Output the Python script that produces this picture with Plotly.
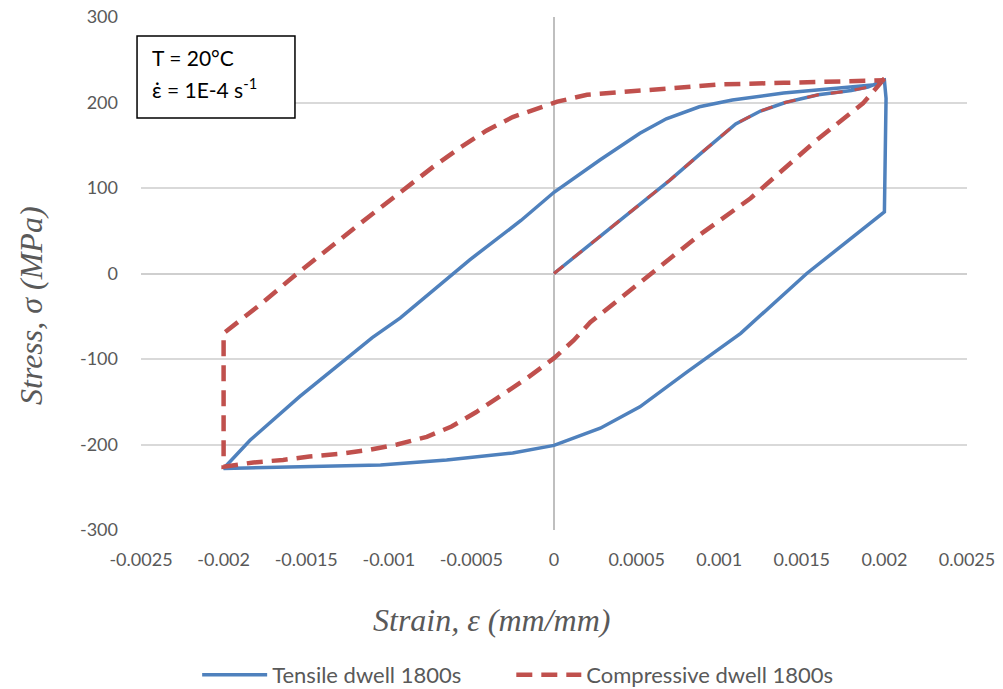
import plotly.graph_objects as go

# Tensile dwell 1800s (blue, solid)
tens_strain = [0, 0.00034, 0.0007, 0.00088, 0.0011, 0.00125, 0.0014, 0.0016, 0.0018, 0.0019, 0.00197, 0.002,
               0.00201, 0.002,
               0.00153, 0.00113, 0.0008, 0.00052, 0.00028, 0.00012, 0, -0.00025, -0.00065, -0.00105, -0.0015, -0.002,
               -0.00184, -0.00154, -0.0011, -0.00093, -0.00051, -0.0002, 0, 0.00028, 0.00052, 0.00068,
               0.00088, 0.00108, 0.00139, 0.00169, 0.00196, 0.002]
tens_stress = [0, 53, 109, 139, 175, 190, 200, 209, 214, 218, 224, 226,
               205, 72,
               0, -70, -116, -156, -181, -193, -201, -210, -218, -224, -226, -228,
               -195, -144, -75, -52, 16, 62, 95, 133, 164, 181,
               195, 203, 211, 216, 221, 226]

# Compressive dwell 1800s (red, dashed) - initial loading
comp_load_strain = [0, 0.00034, 0.0007, 0.00088, 0.0011, 0.00125, 0.0014, 0.0016, 0.0018, 0.0019, 0.00197, 0.002]
comp_load_stress = [0, 53, 109, 139, 175, 190, 200, 209, 214, 218, 224, 228]

# Compressive dwell 1800s - cycle
comp_strain = [0.002, 0.00187, 0.00159, 0.00133, 0.00119, 0.00088, 0.00064, 0.0005, 0.00022, 0.00012, 0,
               -0.00016, -0.00031, -0.00047, -0.00062, -0.00077, -0.00095, -0.00111, -0.0013, -0.00148,
               -0.00164, -0.00182, -0.002,
               -0.002, -0.002,
               -0.00177, -0.00158, -0.00117, -0.00089, -0.00073, -0.00057, -0.00041, -0.00025, -0.00008,
               0.00002, 0.0002, 0.00044, 0.00068, 0.00099, 0.00139, 0.00179, 0.002]
comp_stress = [228, 199, 156, 112, 88, 45, 8, -14, -57, -78, -99,
               -122, -142, -162, -179, -191, -200, -206, -211, -214,
               -218, -221, -226,
               -150, -70,
               -35, -4, 59, 101, 125, 147, 167, 183, 195,
               201, 209, 213, 217, 221, 223, 225, 226]

series_names = ["Tensile dwell 1800s", "Compressive dwell 1800s"]

x_ticks = [-0.0025, -0.002, -0.0015, -0.001, -0.0005, 0, 0.0005, 0.001, 0.0015, 0.002, 0.0025]
x_tick_text = ["-0.0025", "-0.002", "-0.0015", "-0.001", "-0.0005", "0", "0.0005", "0.001", "0.0015", "0.002", "0.0025"]
y_ticks = [-300, -200, -100, 0, 100, 200, 300]
y_tick_text = ["-300", "-200", "-100", "0", "100", "200", "300"]

BLUE = "#4F81BD"
RED = "#C0504D"
GREY = "#595959"
SANS = "Lato, 'Open Sans', sans-serif"
SERIF = "Liberation Serif, Times New Roman, serif"
TICKFONT = dict(family=SANS, size=18, color=GREY)
PAD = "\u00a0" * 8

fig = go.Figure()
fig.add_trace(go.Scatter(x=tens_strain, y=tens_stress, mode="lines", name=series_names[0] + PAD,
                         line=dict(color=BLUE, width=3.5)))
fig.add_trace(go.Scatter(x=comp_load_strain, y=comp_load_stress, mode="lines", showlegend=False,
                         line=dict(color=RED, width=3, dash="12px,12px")))
fig.add_trace(go.Scatter(x=comp_strain, y=comp_stress, mode="lines", name=series_names[1],
                         line=dict(color=RED, width=4.5, dash="16px,9px")))

fig.update_layout(
    width=1003, height=689,
    margin=dict(l=141, r=36, t=17, b=159),
    paper_bgcolor="white", plot_bgcolor="white",
    showlegend=True,
    legend=dict(orientation="h", x=0.456, xanchor="center", yref="container", y=(689 - 675) / 689,
                yanchor="middle", font=dict(family=SANS, size=22, color=GREY),
                itemwidth=65, bgcolor="rgba(0,0,0,0)"),
    xaxis=dict(range=[-0.0025, 0.0025], tickvals=x_ticks, ticktext=x_tick_text, showgrid=False,
               zeroline=True, zerolinecolor="#BFBFBF", zerolinewidth=1.5, automargin=False,
               showline=False, ticks="", tickfont=TICKFONT, ticklabelstandoff=17),
    yaxis=dict(range=[-300, 300], tickvals=y_ticks, ticktext=y_tick_text, showgrid=True,
               gridcolor="#D9D9D9", gridwidth=1.5, automargin=False,
               zeroline=True, zerolinecolor="#CFCFCF", zerolinewidth=1.5,
               showline=False, ticks="", tickfont=TICKFONT, ticklabelstandoff=22),
    shapes=[dict(type="rect", xref="paper", yref="paper", x0=-0.0048, x1=0.1864, y0=0.803, y1=0.963,
                 line=dict(color="black", width=1.5), fillcolor="white", layer="above")],
    annotations=[
        dict(xref="paper", yref="paper", x=0.011, y=(530 - 57) / 513, xanchor="left", yanchor="middle",
             showarrow=False, text="T = 20°C", font=dict(family=SANS, size=21, color="black")),
        dict(xref="paper", yref="paper", x=0.011, y=(530 - 88) / 513, xanchor="left", yanchor="middle",
             showarrow=False, text="ε̇ = 1E-4 s<sup>-1</sup>", font=dict(family=SANS, size=21, color="black")),
        dict(xref="paper", yref="paper", x=(491 - 141) / 826, y=(530 - 620) / 513, xanchor="center",
             yanchor="middle", showarrow=False, text="<i>Strain, ε (mm/mm)</i>",
             font=dict(family=SERIF, size=32, color=GREY)),
        dict(xref="paper", yref="paper", x=(31 - 141) / 826, y=(530 - 306) / 513, xanchor="center",
             yanchor="middle", showarrow=False, textangle=-90, text="<i>Stress, σ (MPa)</i>",
             font=dict(family=SERIF, size=32, color=GREY)),
    ],
)

fig.write_html("out.html", config={"displayModeBar": False},
               post_script="document.body.style.margin='0px';")
